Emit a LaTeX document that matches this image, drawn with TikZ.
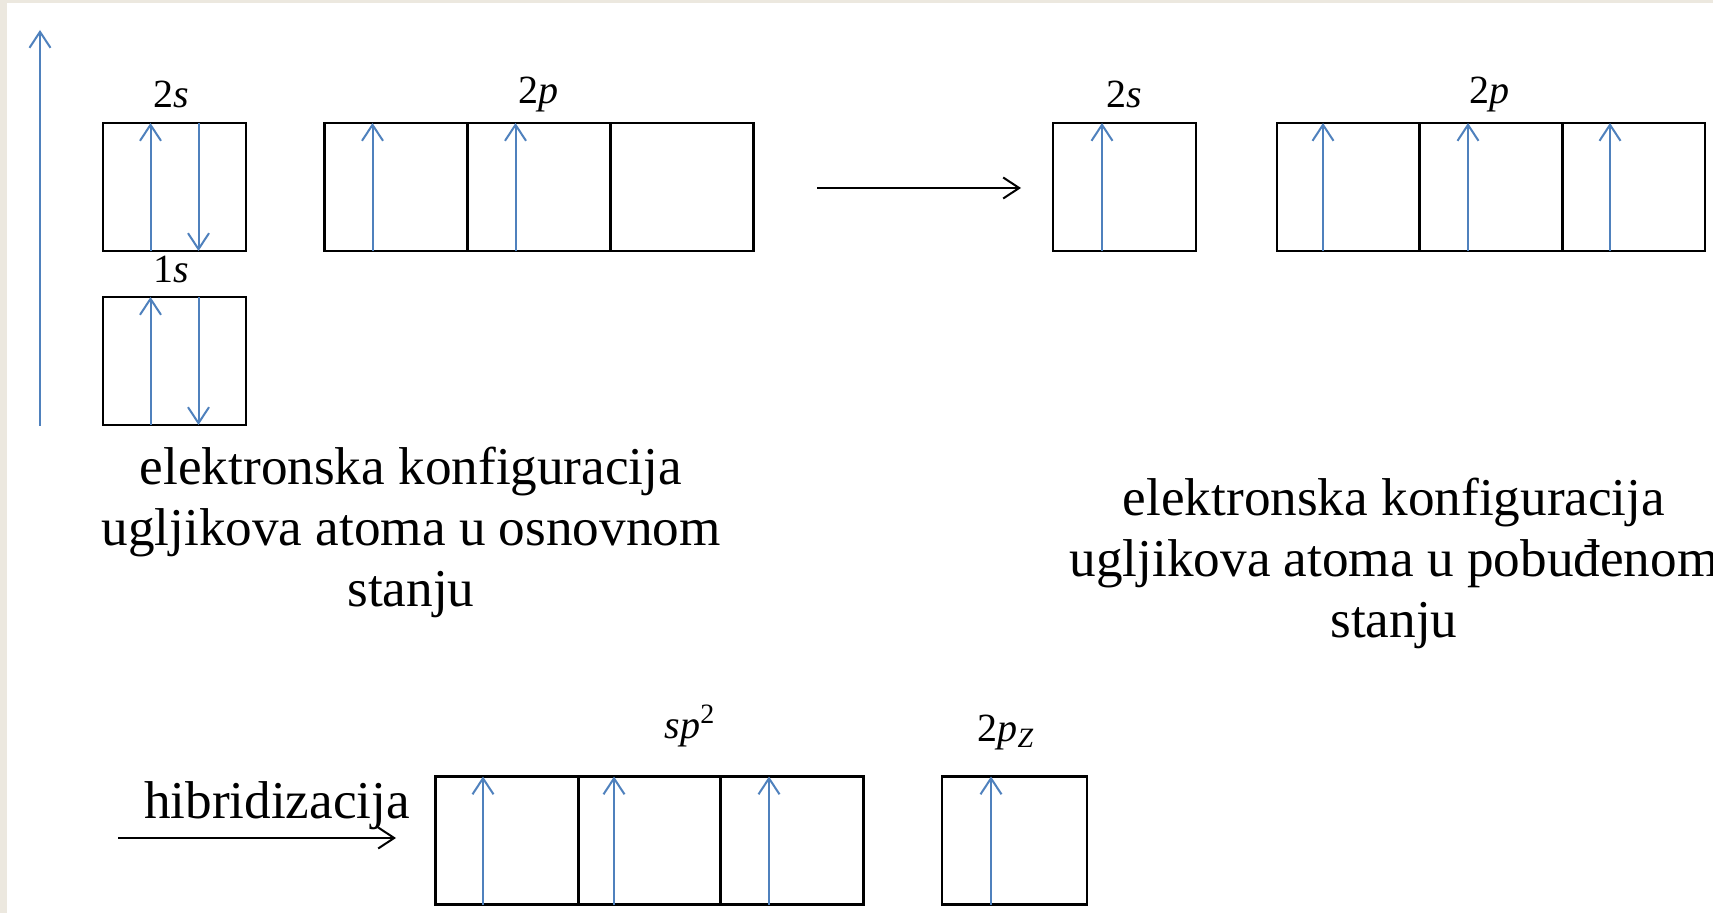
\documentclass[tikz,border=0pt]{standalone}
\usepackage{fontspec}
\setmainfont{Liberation Serif}
\usetikzlibrary{arrows.meta}
\definecolor{eblue}{RGB}{79,129,189}
\definecolor{beigebg}{RGB}{236,232,223}
\begin{document}
\begin{tikzpicture}[x=0.5pt,y=-0.5pt,
  cell/.style={draw=black, line width=1.2pt, minimum width=71.5pt, minimum height=64pt, inner sep=0pt, outer sep=0pt},
  espin/.style={draw=eblue, line width=1pt, -{Straight Barb[length=8pt,width=10.5pt]}},
  conn/.style={draw=black, line width=1pt, -{Straight Barb[length=8pt,width=10.5pt]}},
  lbl/.style={font=\fontsize{20}{24}\selectfont, inner sep=0pt, anchor=base},
  desc/.style={font=\fontsize{26.6}{31}\selectfont, inner sep=0pt, anchor=base}]
\useasboundingbox (0,0) rectangle (1713,913);
\clip (0,0) rectangle (1713,913);
\fill[white] (0,0) rectangle (1713,913);
\fill[beigebg] (0,0) rectangle (7,913);
\fill[beigebg] (0,0) rectangle (1713,3);

% energy axis
\coordinate (ax0) at (40,426);
\coordinate (ax1) at (40,30);
\draw[espin] (ax0) -- (ax1);

% ground state
\node[cell] (s2a) at (174.5,187) {};
\node[cell] (s1a) at (174.5,361) {};
\node[cell] (p2a1) at (396,187) {};
\node[cell] (p2a2) at (539,187) {};
\node[cell] (p2a3) at (682,187) {};
\node[lbl] (l2sa) at (171.5,108) {2\textit{s}};
\node[lbl] (l1sa) at (171.5,283) {1\textit{s}};
\node[lbl] (l2pa) at (538.6,104) {2\textit{p}};

\draw[espin] ([xshift=-12pt]s2a.south) -- ([xshift=-12pt]s2a.north);
\draw[espin] ([xshift=12pt]s2a.north) -- ([xshift=12pt]s2a.south);
\draw[espin] ([xshift=-12pt]s1a.south) -- ([xshift=-12pt]s1a.north);
\draw[espin] ([xshift=12pt]s1a.north) -- ([xshift=12pt]s1a.south);
\draw[espin] ([xshift=-11.75pt]p2a1.south) -- ([xshift=-11.75pt]p2a1.north);
\draw[espin] ([xshift=-11.75pt]p2a2.south) -- ([xshift=-11.75pt]p2a2.north);

% excitation arrow
\coordinate (e0) at (817,188);
\coordinate (e1) at (1021,188);
\draw[conn] (e0) -- (e1);

% excited state
\node[cell] (s2b) at (1124.5,187) {};
\node[cell] (p2b1) at (1348.5,187) {};
\node[cell] (p2b2) at (1491,187) {};
\node[cell] (p2b3) at (1633.5,187) {};
\node[lbl] (l2sb) at (1124,108) {2\textit{s}};
\node[lbl] (l2pb) at (1489,104) {2\textit{p}};
\draw[espin] ([xshift=-11.25pt]s2b.south) -- ([xshift=-11.25pt]s2b.north);
\draw[espin] ([xshift=-12.75pt]p2b1.south) -- ([xshift=-12.75pt]p2b1.north);
\draw[espin] ([xshift=-11.5pt]p2b2.south) -- ([xshift=-11.5pt]p2b2.north);
\draw[espin] ([xshift=-11.75pt]p2b3.south) -- ([xshift=-11.75pt]p2b3.north);

% descriptions
\node[desc] (d1a) at (411,485) {elektronska konfiguracija};
\node[desc] (d1b) at (411,546) {ugljikova atoma u osnovnom};
\node[desc] (d1c) at (411,607) {stanju};
\node[desc] (d2a) at (1394,516) {elektronska konfiguracija};
\node[desc] (d2b) at (1394,577) {ugljikova atoma u pobuđenom};
\node[desc] (d2c) at (1394,638) {stanju};

% hybridization
\node[desc] (hib) at (277,818) {hibridizacija};
\coordinate (h0) at (118,838);
\coordinate (h1) at (396,838);
\draw[conn] (h0) -- (h1);

\node[cell] (sp1) at (507,840.5) {};
\node[cell] (sp2) at (649.5,840.5) {};
\node[cell] (sp3) at (792,840.5) {};
\node[cell, minimum width=72.5pt] (pz) at (1014.5,840.5) {};
\node[lbl] (lsp) at (690,739) {\textit{sp}\textsuperscript{2}};
\node[lbl] (lpz) at (1006,741) {2\textit{p}\textsubscript{\textit{Z}}};
\draw[espin] ([xshift=-12pt]sp1.south) -- ([xshift=-12pt]sp1.north);
\draw[espin] ([xshift=-17.75pt]sp2.south) -- ([xshift=-17.75pt]sp2.north);
\draw[espin] ([xshift=-11.5pt]sp3.south) -- ([xshift=-11.5pt]sp3.north);
\draw[espin] ([xshift=-11.75pt]pz.south) -- ([xshift=-11.75pt]pz.north);
\end{tikzpicture}
\end{document}
